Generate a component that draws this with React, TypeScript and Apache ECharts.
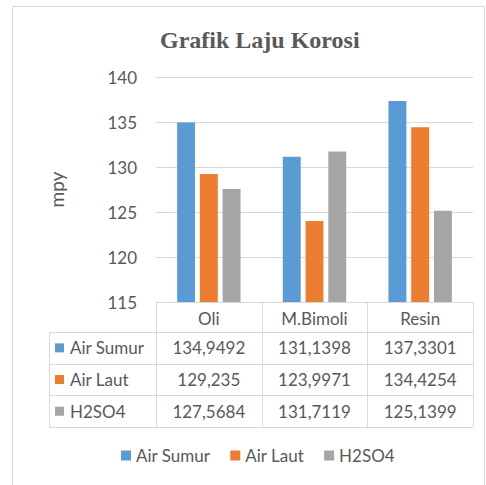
import React, { useEffect, useRef } from "react";
import * as echarts from "echarts";

const title = "Grafik Laju Korosi";
const yAxisName = "mpy";
const categories = ["Oli", "M.Bimoli", "Resin"];
const seriesNames = ["Air Sumur", "Air Laut", "H2SO4"];
const airSumur = [134.9492, 131.1398, 137.3301];
const airLaut = [129.235, 123.9971, 134.4254];
const h2so4 = [127.5684, 131.7119, 125.1399];
const colors = ["#5B9BD5", "#ED7D31", "#A5A5A5"];

const W = 486;
const H = 485;
const FONT = "Lato, 'Open Sans', sans-serif";
const FS = 17;
const TXT = "#595959";
const LINE = "#D9D9D9";

const gridLeft = 156;
const gridRight = 473;
const gridTop = 77;
const gridBottom = 302;
const tableLeft = 49;
const headerH = 30;
const rowH = 31.7;

const fmt = (v: number) => String(v).replace(".", ",");

export default function App() {
  const ref = useRef<HTMLDivElement>(null);
  useEffect(() => {
    document.body.style.margin = "0";
    const chart = echarts.init(ref.current!, null, { renderer: "svg" });
    const allSeries = [airSumur, airLaut, h2so4];
    const nCat = categories.length;
    const colW = (gridRight - gridLeft) / nCat;
    const tableBottom = gridBottom + headerH + rowH * allSeries.length;

    const graphic: any[] = [];
    graphic.push({
      type: "rect",
      shape: { x: 12.5, y: 6.5, width: 472, height: 500 },
      style: { fill: "none", stroke: LINE, lineWidth: 1 },
      silent: true,
    });
    // y-axis title
    graphic.push({
      type: "text",
      x: 56,
      y: (gridTop + gridBottom) / 2,
      rotation: Math.PI / 2,
      style: {
        text: yAxisName,
        font: `19px ${FONT}`,
        fill: TXT,
        align: "center",
        verticalAlign: "middle",
      },
    });
    graphic.push({
      type: "line",
      shape: { x1: gridLeft, y1: gridBottom + 0.5, x2: gridRight, y2: gridBottom + 0.5 },
      style: { stroke: LINE, lineWidth: 1 },
    });
    for (let i = 0; i <= allSeries.length; i++) {
      const y = Math.round(gridBottom + headerH + rowH * i) + 0.5;
      graphic.push({
        type: "line",
        shape: { x1: tableLeft, y1: y, x2: gridRight, y2: y },
        style: { stroke: LINE, lineWidth: 1 },
      });
    }
    graphic.push({
      type: "line",
      shape: { x1: tableLeft + 0.5, y1: gridBottom + headerH, x2: tableLeft + 0.5, y2: tableBottom },
      style: { stroke: LINE, lineWidth: 1 },
    });
    for (let j = 0; j <= nCat; j++) {
      const x = Math.round(gridLeft + colW * j) + 0.5;
      graphic.push({
        type: "line",
        shape: { x1: x, y1: gridBottom, x2: x, y2: tableBottom },
        style: { stroke: LINE, lineWidth: 1 },
      });
    }
    allSeries.forEach((vals, i) => {
      const cy = gridBottom + headerH + rowH * i + rowH / 2;
      graphic.push({
        type: "rect",
        shape: { x: 55, y: cy - 4.5, width: 9, height: 9 },
        style: { fill: colors[i] },
      });
      graphic.push({
        type: "text",
        x: 70,
        y: cy,
        style: {
          text: seriesNames[i],
          font: `${FS}px ${FONT}`,
          fill: TXT,
          verticalAlign: "middle",
          align: "left",
        },
      });
      vals.forEach((v, j) => {
        graphic.push({
          type: "text",
          x: gridLeft + colW * (j + 0.5),
          y: cy,
          style: {
            text: fmt(v),
            font: `${FS}px ${FONT}`,
            fill: TXT,
            verticalAlign: "middle",
            align: "center",
          },
        });
      });
    });

    chart.setOption({
      animation: false,
      backgroundColor: "#ffffff",
      title: {
        text: title,
        left: 155,
        top: 23,
        textStyle: {
          fontFamily: "'Liberation Serif', 'Times New Roman', serif",
          fontWeight: "bold",
          fontSize: 24,
          color: TXT,
        },
      },
      grid: {
        left: gridLeft,
        right: W - gridRight,
        top: gridTop,
        bottom: H - gridBottom,
        containLabel: false,
      },
      legend: {
        left: 116,
        top: 442,
        icon: "rect",
        itemWidth: 10,
        itemHeight: 10,
        itemGap: 20,
        textStyle: { fontFamily: FONT, fontSize: FS, color: TXT },
        data: seriesNames,
      },
      xAxis: {
        type: "category",
        data: categories,
        axisLine: { show: false },
        axisTick: { show: false },
        axisLabel: { fontFamily: FONT, fontSize: FS, color: TXT, margin: 8 },
      },
      yAxis: {
        type: "value",
        min: 115,
        max: 140,
        interval: 5,
        axisLine: { show: false },
        axisTick: { show: false },
        axisLabel: { fontFamily: FONT, fontSize: FS, color: TXT, margin: 19 },
        splitLine: { lineStyle: { color: LINE, width: 1 } },
      },
      series: allSeries.map((vals, i) => ({
        type: "bar",
        name: seriesNames[i],
        data: vals,
        itemStyle: { color: colors[i] },
        barGap: "27%",
        barCategoryGap: "40%",
      })),
      graphic,
    });
    return () => chart.dispose();
  }, []);
  return <div ref={ref} style={{ width: W, height: H }} />;
}
